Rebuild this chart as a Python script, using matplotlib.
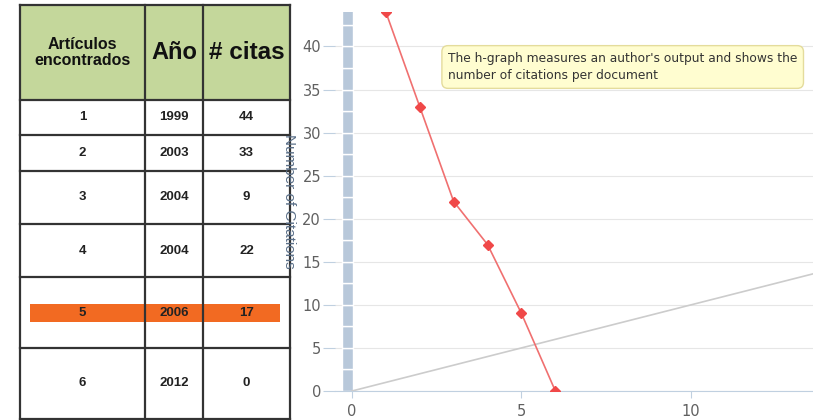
import matplotlib.pyplot as plt
import numpy as np
from matplotlib.patches import Rectangle

# table data
articulos = [1, 2, 3, 4, 5, 6]
anios = [1999, 2003, 2004, 2004, 2006, 2012]
citas = [44, 33, 9, 22, 17, 0]
header = ["Artículos\nencontrados", "Año", "# citas"]
highlight = 4

# h-graph data: documents ranked by citations
rank = list(range(1, len(citas) + 1))
ranked_cites = sorted(citas, reverse=True)
diag_x = [0, 14]

fig = plt.figure(figsize=(8.13, 4.2), dpi=100)

# ---- table (drawn in pixel coords) ----
tab = fig.add_axes([0, 0, 1, 1])
tab.set_xlim(0, 813)
tab.set_ylim(420, 0)
tab.axis("off")

col_edges = [20, 145, 203, 290]
row_edges = [5, 100, 135, 171, 224, 277, 348, 419]
col_mid = [(col_edges[i] + col_edges[i + 1]) / 2 for i in range(3)]
row_mid = [(row_edges[i] + row_edges[i + 1]) / 2 for i in range(len(row_edges) - 1)]

tab.add_patch(Rectangle((col_edges[0], row_edges[0]), col_edges[-1] - col_edges[0],
                        row_edges[1] - row_edges[0], fc="#c4d79b", ec="none"))
hb = row_mid[highlight + 1]
tab.add_patch(Rectangle((30, hb - 9), 250, 18, fc="#f26a22", ec="none", zorder=2))

for y in row_edges:
    tab.plot([col_edges[0], col_edges[-1]], [y, y], color="#333333", lw=1.6, zorder=3)
for x in col_edges:
    tab.plot([x, x], [row_edges[0], row_edges[-1]], color="#333333", lw=1.6, zorder=3)

sizes = [11.5, 17, 17.5]
for i, h in enumerate(header):
    tab.text(col_mid[i], row_mid[0], h, ha="center", va="center", fontsize=sizes[i],
             fontweight="bold", family="Liberation Sans", color="#111111",
             linespacing=1.1)

for r, (a, y, c) in enumerate(zip(articulos, anios, citas)):
    for i, v in enumerate([a, y, c]):
        tab.text(col_mid[i], row_mid[r + 1], str(v), ha="center", va="center",
                 fontsize=9.5, fontweight="bold", family="Liberation Sans",
                 color="#222222", zorder=4)

# ---- h-graph ----
W, H = 813, 420
ax = fig.add_axes([335 / W, (H - 391) / H, (813 - 335) / W, (391 - 12) / H])
ax.set_xlim(-0.5, 13.6)
ax.set_ylim(0, 44)

ax.bar(-0.13, 2.5, width=0.32, bottom=np.arange(0, 45, 2.5), color="#b8c8da",
       edgecolor="white", linewidth=1, zorder=2)
ax.set_yticks(range(0, 45, 5))
ax.set_xticks([0, 5, 10])
ax.grid(axis="y", color="#e6e6e6", lw=0.8, zorder=0)
ax.plot(diag_x, diag_x, color="#cccccc", lw=1.2, zorder=3)
ax.plot(rank, ranked_cites, color="#f07070", lw=1.2, marker="D", ms=5,
        mfc="#f04848", mec="#f04848", zorder=4)

for s in ["top", "right", "left"]:
    ax.spines[s].set_visible(False)
ax.spines["bottom"].set_color("#c0d0e0")
ax.tick_params(axis="y", length=9, color="#c0d0e0", labelsize=10.5, labelcolor="#606060", pad=1)
ax.tick_params(axis="x", length=5, color="#c0d0e0", labelsize=10.5, labelcolor="#606060", pad=4)
ax.set_ylabel("Number of Citations", rotation=270, fontsize=11, color="#5a6f88",
              family="Liberation Sans", va="center")
ax.yaxis.set_label_coords(-0.097, 0.5)

fig.text(448, 67, "The h-graph measures an author's output and shows the\nnumber of citations per document",
         transform=tab.transData, fontsize=8.8, color="#333333", va="center", ha="left",
         linespacing=1.45,
         bbox=dict(boxstyle="round,pad=0.5", fc="#fffdd0", ec="#e4dc9c", lw=1))

fig.savefig("out.png", dpi=100)
